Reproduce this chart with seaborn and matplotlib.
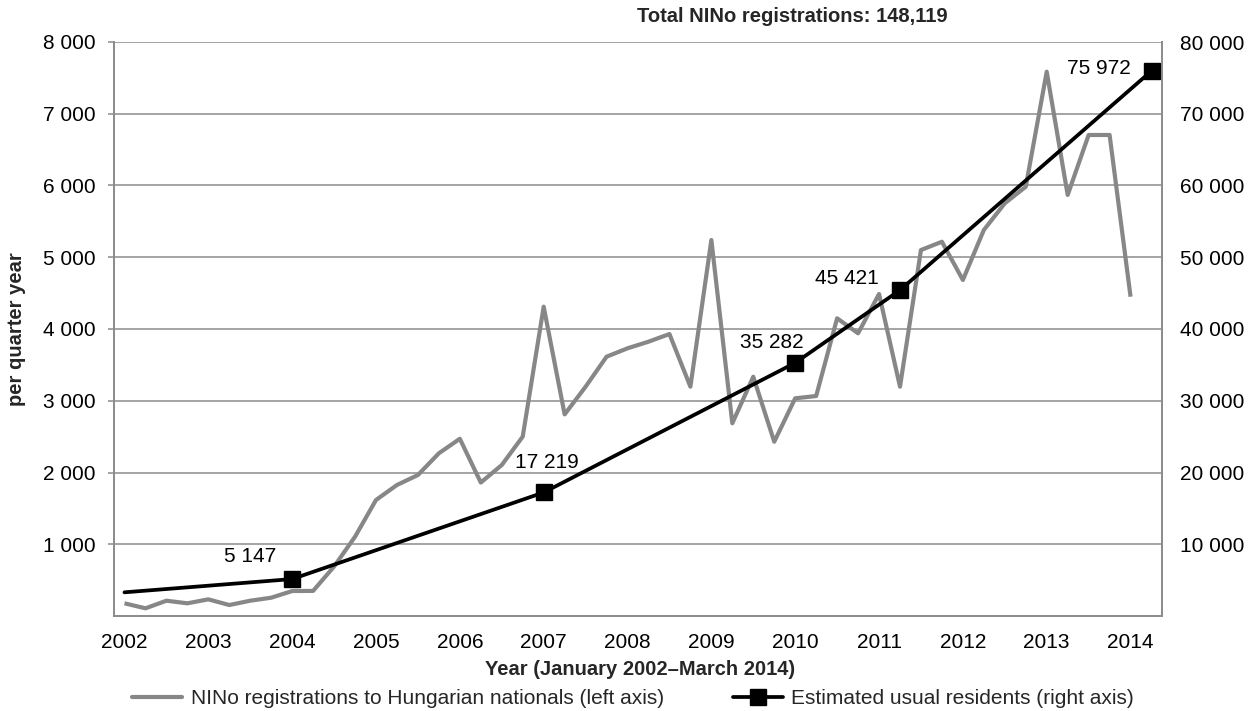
import numpy as np
import pandas as pd
import seaborn as sns
import matplotlib.pyplot as plt
from matplotlib.lines import Line2D

# quarters Jan 2002 .. Mar 2014 (index 0..48), axis runs one more quarter
years = list(range(2002, 2015))
n_quarters = 50

nino = [177, 107, 213, 177, 232, 153, 213, 255, 348, 350,
        690, 1105, 1617, 1826, 1965, 2268, 2470, 1860, 2104, 2500,
        4311, 2810, 3196, 3614, 3731, 3823, 3930, 3196, 5240, 2686,
        3335, 2429, 3034, 3066, 4149, 3940, 4488, 3196, 5101, 5216,
        4683, 5380, 5752, 5983, 7586, 5868, 6704, 6704, 4450]

res_idx = [0, 8, 20, 32, 37, 49]
residents = [3300, 5147, 17219, 35282, 45421, 75972]
labelled = [False, True, True, True, True, True]
# offsets of the value labels (points) from their markers
label_off = [(0, 0), (-30, 16), (2, 21.5), (-16.5, 14.5), (-38.5, 8.5), (-38, 2)]

df_nino = pd.DataFrame({'q': range(len(nino)), 'v': nino})
df_res = pd.DataFrame({'q': res_idx, 'v': residents})

sns.set_theme(style='white')
plt.rcParams['font.family'] = ['Liberation Sans', 'DejaVu Sans']

grey = '#878787'
axcol = '#8c8c8c'
fs = 15
fs_b = 14.5

fig = plt.figure(figsize=(12.54, 7.11), dpi=100)
ax = fig.add_axes([114 / 1254, 1 - 616 / 711, 1048 / 1254, 574 / 711])
ax2 = ax.twinx()

sns.lineplot(data=df_nino, x='q', y='v', ax=ax, color=grey, lw=3.0,
             solid_joinstyle='round', solid_capstyle='butt')
sns.lineplot(data=df_res, x='q', y='v', ax=ax2, color='black', lw=2.7)
lab = df_res[labelled]
ax2.plot(lab['q'], lab['v'], ls='none', marker='s', ms=11.5, color='black')
for q, v, show, off in zip(res_idx, residents, labelled, label_off):
    if show:
        ax2.annotate(f'{v:,}'.replace(',', ' '), (q, v), xytext=off,
                     textcoords='offset points', ha='center', va='center',
                     fontsize=fs, color='black')

ax.set_xlim(-0.5, n_quarters - 0.5)
ax.set_ylim(0, 8000)
ax2.set_ylim(0, 80000)

ax.set_yticks(range(1000, 8001, 1000))
ax.set_yticklabels([f'{v:,}'.replace(',', ' ') for v in range(1000, 8001, 1000)])
ax2.set_yticks(range(10000, 80001, 10000))
ax2.set_yticklabels([f'{v:,}'.replace(',', ' ') for v in range(10000, 80001, 10000)])

ax.set_xticks([4 * i for i in range(len(years))])
ax.set_xticklabels([str(y) for y in years])
ax.set_xticks(np.arange(-0.5, n_quarters, 1.0), minor=True)
ax.tick_params(axis='x', which='major', length=0, pad=12, labelsize=fs, colors='black')
ax.tick_params(axis='x', which='minor', length=4.3, width=1.1, color=axcol, direction='out')
ax.tick_params(axis='y', length=4.3, width=1.1, color=axcol, pad=9, labelsize=fs, labelcolor='black')
ax2.tick_params(axis='y', length=0, pad=13, labelsize=fs, labelcolor='black')

ax.grid(axis='y', color=axcol, lw=1.1)
ax.set_axisbelow(True)
for a in (ax, ax2):
    a.spines['top'].set_visible(False)
    for s in ('left', 'right', 'bottom'):
        a.spines[s].set_color(axcol)
        a.spines[s].set_linewidth(1.3)
ax2.set_zorder(ax.zorder + 1)
ax2.patch.set_visible(False)

ax.set_ylabel('per quarter year', fontsize=fs_b, fontweight='bold')
ax.yaxis.set_label_coords(-0.084, 0.5)
ax.set_xlabel('Year (January 2002\u2013March 2014)', fontsize=fs_b, fontweight='bold')
ax.xaxis.set_label_coords(0.502, -0.077)
ax2.set_ylabel('')

fig.text(792 / 1254, 1 - 16 / 711, 'Total NINo registrations: 148,119',
         ha='center', va='center', fontsize=fs_b, fontweight='bold')

handles = [Line2D([], [], color=grey, lw=3.0),
           Line2D([], [], color='black', lw=2.7, marker='s', ms=11.5)]
fig.legend(handles, ['NINo registrations to Hungarian nationals (left axis)',
                     'Estimated usual residents (right axis)'],
           loc='center', bbox_to_anchor=(633 / 1254, 1 - 699 / 711), ncol=2,
           frameon=False, fontsize=fs, handlelength=2.4, handletextpad=0.4,
           columnspacing=3.3, borderpad=0)

fig.savefig('out.png', dpi=100)
